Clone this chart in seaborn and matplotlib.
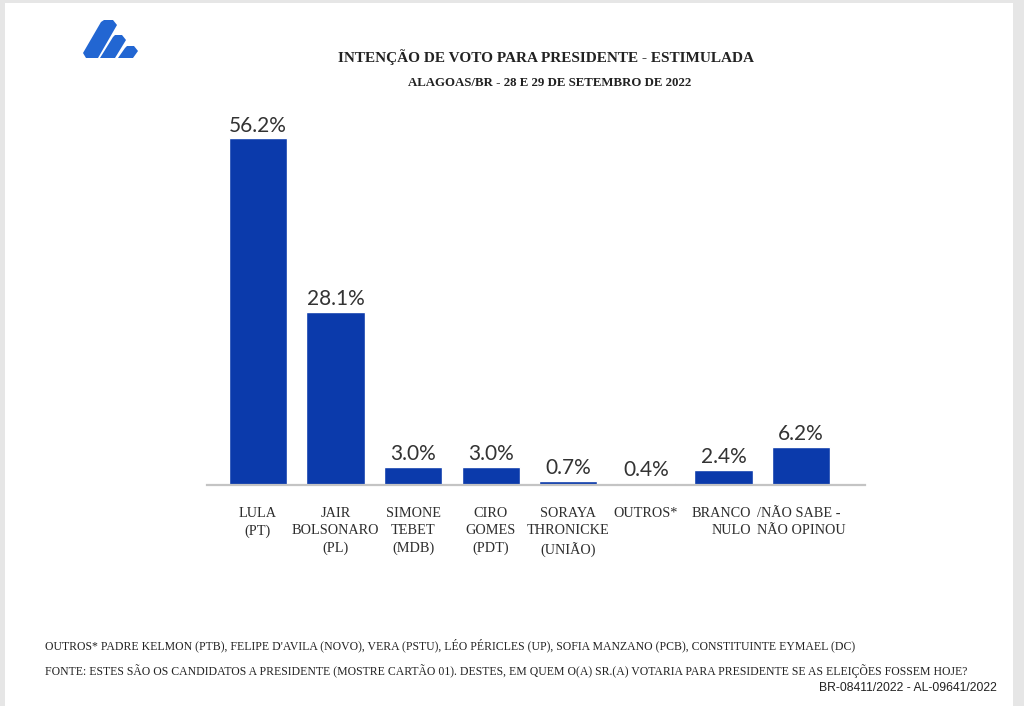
import matplotlib
matplotlib.use("Agg")
import matplotlib.pyplot as plt
import matplotlib.transforms as mtransforms
from matplotlib.patches import Rectangle, Polygon
import seaborn as sns

# Values
candidates = ["LULA\n(PT)", "JAIR\nBOLSONARO\n(PL)", "SIMONE\nTEBET\n(MDB)",
              "CIRO\nGOMES\n(PDT)", "SORAYA\nTHRONICKE\n(UNIÃO)", "OUTROS*",
              "BRANCO\nNULO", "/NÃO SABE -\nNÃO OPINOU"]
percent = [56.2, 28.1, 3.0, 3.0, 0.7, 0.4, 2.4, 6.2]

title = "INTENÇÃO DE VOTO PARA PRESIDENTE - ESTIMULADA"
subtitle = "ALAGOAS/BR - 28 E 29 DE SETEMBRO DE 2022"
note_outros = ("OUTROS* PADRE KELMON (PTB), FELIPE D'AVILA (NOVO), VERA (PSTU), "
               "LÉO PÉRICLES (UP), SOFIA MANZANO (PCB), CONSTITUINTE EYMAEL (DC)")
note_fonte = ("FONTE: ESTES SÃO OS CANDIDATOS A PRESIDENTE (MOSTRE CARTÃO 01). DESTES, "
              "EM QUEM O(A) SR.(A) VOTARIA PARA PRESIDENTE SE AS ELEIÇÕES FOSSEM HOJE?")
registro = "BR-08411/2022 - AL-09641/2022"

bar_color = "#0b3aab"

sns.set_style("white")
plt.rcParams["font.family"] = ["Liberation Serif", "DejaVu Serif"]

fig = plt.figure(figsize=(10.24, 7.06), dpi=100)
fig.patch.set_facecolor("#e6e6e6")
# white "page" inside the grey screenshot frame
fig.patches.append(Rectangle((5 / 1024, 0), 1008 / 1024, 703 / 706,
                             transform=fig.transFigure, facecolor="white",
                             edgecolor="none", zorder=-2))

# logo (three slanted blocks)
logo_color = "#2266d2"
logo_shapes = [
    [(83, 53), (101, 22), (104, 20), (113, 20), (117, 25), (98, 58), (86, 58)],
    [(100, 58), (113, 37), (115, 35), (122, 35), (126, 40), (115, 58)],
    [(118, 58), (125, 48), (127, 46), (134, 46), (138, 51), (133, 58)],
]
for shape in logo_shapes:
    pts = [(x / 1024, 1 - y / 706) for x, y in shape]
    fig.patches.append(Polygon(pts, closed=True, transform=fig.transFigure,
                               facecolor=logo_color, edgecolor="none", zorder=-1))

ax = fig.add_axes([207 / 1024, 1 - 485 / 706, 658 / 1024, 370 / 706])
ax.set_zorder(2)
ax.set_facecolor("none")
sns.barplot(x=candidates, y=percent, color=bar_color, saturation=1,
            width=0.75, ax=ax)
ax.set_xlim(-0.657, 7.825)
ax.set_ylim(0, 60)

for c in ax.containers:
    ax.bar_label(c, fmt="%.1f%%", padding=2, fontsize=15, color="#333333",
                 family=["Lato", "DejaVu Sans"])

ax.set_yticks([])
ax.set_ylabel("")
ax.set_xlabel("")
for s in ["top", "right", "left"]:
    ax.spines[s].set_visible(False)
ax.spines["bottom"].set_color("#c4c4c4")
ax.spines["bottom"].set_linewidth(1.6)
ax.tick_params(axis="x", length=0, pad=16, labelsize=10.3, labelcolor="#2e2e2e")

labels = ax.get_xticklabels()
for lab in labels:
    lab.set_multialignment("center")
    lab.set_linespacing(1.42)
# the last two labels are set off the bar centre in the original
labels[6].set_ha("right")
labels[6].set_multialignment("right")
labels[6].set_transform(labels[6].get_transform() +
                        mtransforms.ScaledTranslation(20 / 72, 0, fig.dpi_scale_trans))
labels[7].set_ha("left")
labels[7].set_multialignment("left")
labels[7].set_transform(labels[7].get_transform() +
                        mtransforms.ScaledTranslation(-32 / 72, 0, fig.dpi_scale_trans))

fig.text(546 / 1024, 1 - 57 / 706, title, ha="center", va="center",
         fontsize=11, fontweight="bold", color="#222222")
fig.text(550 / 1024, 1 - 83 / 706, subtitle, ha="center", va="center",
         fontsize=9.3, fontweight="bold", color="#222222")

fig.text(45 / 1024, 1 - 645 / 706, note_outros, ha="left", va="center",
         fontsize=8.5, color="#222222")
fig.text(45 / 1024, 1 - 671 / 706, note_fonte, ha="left", va="center",
         fontsize=8.5, color="#222222")
fig.text(997 / 1024, 1 - 688 / 706, registro, ha="right", va="center",
         fontsize=8.7, color="#222222", family=["Liberation Sans", "DejaVu Sans"])

fig.savefig("out.png", dpi=100, facecolor=fig.get_facecolor())
